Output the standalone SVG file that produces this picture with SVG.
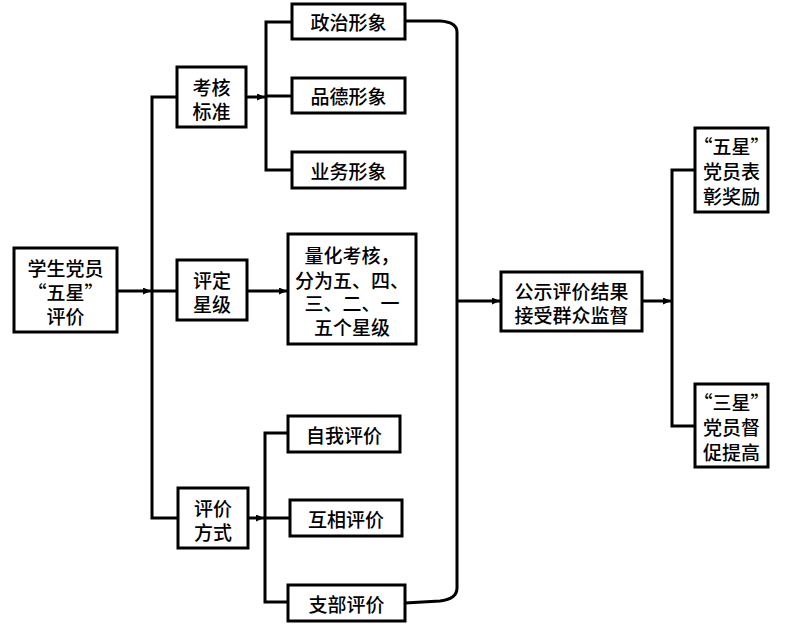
<svg xmlns="http://www.w3.org/2000/svg" width="798" height="632" viewBox="0 0 798 632">
<defs>
<style>
.box{fill:#fff;stroke:#000;stroke-width:3}
.t{font-family:"Noto Sans CJK SC","Liberation Serif",serif;font-size:19px;font-weight:500;fill:#000;text-anchor:middle;dominant-baseline:central}
.c{fill:none;stroke:#000;stroke-width:3}
</style>
<marker id="ah" markerUnits="userSpaceOnUse" markerWidth="9" markerHeight="8" refX="8" refY="3.5" orient="auto">
<path d="M0,0 L8,3.5 L0,7 z" fill="#000"/>
</marker>
</defs>
<rect width="798" height="632" fill="#fff"/>
<g id="connectors">
<path class="c" d="M117,291 H151" marker-end="url(#ah)"/>
<path class="c" d="M177,97 H152 V518 H178"/>
<path class="c" d="M152,291 H177"/>
<path class="c" d="M246,97 H265" marker-end="url(#ah)"/>
<path class="c" d="M292,22 H266 V170 H292"/>
<path class="c" d="M266,96 H292"/>
<path class="c" d="M247,291 H287" marker-end="url(#ah)"/>
<path class="c" d="M248,518 H264" marker-end="url(#ah)"/>
<path class="c" d="M288,433 H265 V602 H288"/>
<path class="c" d="M265,518 H290"/>
<path class="c" d="M405,21 H440 Q457,22 457,32 V588 Q457,599 440,601 L405,603"/>
<path class="c" d="M457,301 H500" marker-end="url(#ah)"/>
<path class="c" d="M642,301 H671" marker-end="url(#ah)"/>
<path class="c" d="M695,170 H672 V426 H695"/>
</g>
<g id="n_start"><rect class="box" x="14" y="248" width="103" height="84"/>
<text class="t" x="65.5" y="267">学生党员</text><text class="t" x="65.5" y="291">“五星”</text><text class="t" x="65.5" y="315">评价</text></g>
<g id="n_kh"><rect class="box" x="177" y="67" width="69" height="60"/>
<text class="t" x="211.5" y="86">考核</text><text class="t" x="211.5" y="110">标准</text></g>
<g id="n_pd"><rect class="box" x="177" y="260" width="70" height="60"/>
<text class="t" x="212" y="279">评定</text><text class="t" x="212" y="303">星级</text></g>
<g id="n_pj"><rect class="box" x="178" y="488" width="70" height="60"/>
<text class="t" x="213" y="507">评价</text><text class="t" x="213" y="531">方式</text></g>
<g id="n_zz"><rect class="box" x="292" y="4" width="113" height="35"/><text class="t" x="348.5" y="21.5">政治形象</text></g>
<g id="n_pde"><rect class="box" x="292" y="78" width="113" height="35"/><text class="t" x="348.5" y="95.5">品德形象</text></g>
<g id="n_yw"><rect class="box" x="292" y="152" width="113" height="36"/><text class="t" x="348.5" y="170">业务形象</text></g>
<g id="n_lh"><rect class="box" x="288" y="234" width="128" height="110"/>
<text class="t" x="352" y="254">量化考核，</text><text class="t" x="352" y="279">分为五、四、</text><text class="t" x="352" y="302">三、二、一</text><text class="t" x="352" y="326">五个星级</text></g>
<g id="n_zw"><rect class="box" x="288" y="416" width="112" height="36"/><text class="t" x="344" y="434">自我评价</text></g>
<g id="n_hx"><rect class="box" x="290" y="500" width="112" height="36"/><text class="t" x="346" y="518">互相评价</text></g>
<g id="n_zb"><rect class="box" x="288" y="585" width="117" height="36"/><text class="t" x="346.5" y="603">支部评价</text></g>
<g id="n_gs"><rect class="box" x="501" y="272" width="141" height="59"/>
<text class="t" x="571.5" y="290">公示评价结果</text><text class="t" x="571.5" y="314">接受群众监督</text></g>
<g id="n_wx"><rect class="box" x="695" y="128" width="73" height="84"/>
<text class="t" x="731.5" y="145">“五星”</text><text class="t" x="731.5" y="170">党员表</text><text class="t" x="731.5" y="195">彰奖励</text></g>
<g id="n_sx"><rect class="box" x="695" y="384" width="73" height="83"/>
<text class="t" x="731.5" y="401">“三星”</text><text class="t" x="731.5" y="426">党员督</text><text class="t" x="731.5" y="451">促提高</text></g>
</svg>
